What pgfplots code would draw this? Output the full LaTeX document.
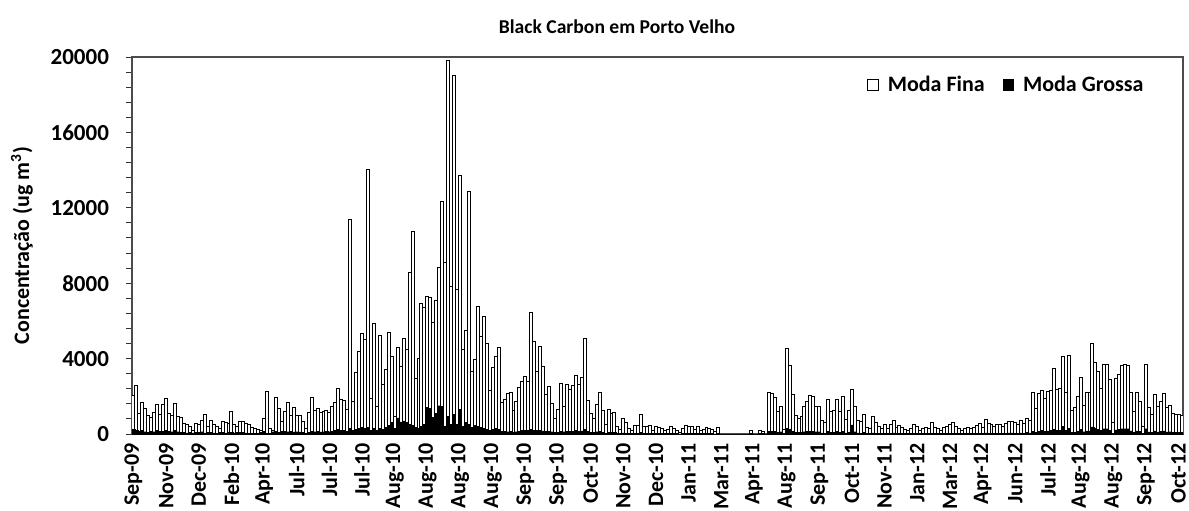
\documentclass[border=0pt]{standalone}
\usepackage{fontspec}
\setmainfont{Carlito}
\usepackage{pgfplots}
\usepackage{pgfplotstable}
\pgfplotsset{compat=1.18}

% Moda Fina, one value per bar (354 bars)
\pgfplotstableread[row sep=\\]{
f\\
2030\\2560\\1100\\1680\\1360\\970\\860\\1150\\1570\\1040\\1570\\
1890\\1080\\970\\1620\\920\\900\\550\\480\\390\\210\\560\\
510\\740\\1060\\390\\740\\480\\390\\300\\650\\600\\560\\
1180\\500\\380\\680\\650\\560\\480\\330\\280\\220\\200\\
830\\2240\\300\\200\\1920\\1360\\650\\1180\\1680\\1000\\1390\\
1000\\1000\\650\\300\\1150\\1920\\1270\\1360\\1150\\1220\\1270\\
1150\\1450\\1680\\2420\\1850\\1800\\1300\\11380\\1750\\3250\\4360\\
5320\\5010\\14050\\1900\\5850\\1480\\5220\\2630\\3420\\5410\\4090\\
920\\4590\\3600\\5060\\4480\\8590\\10740\\2950\\4000\\6910\\6730\\
7270\\7230\\5940\\7100\\8850\\12350\\9100\\19790\\7850\\19030\\7670\\
13700\\4480\\5500\\12870\\3300\\3970\\6790\\5150\\6260\\4800\\2290\\
3530\\4130\\4570\\1680\\1850\\2150\\2200\\1270\\1720\\2470\\2770\\
3030\\2800\\6420\\4890\\3330\\4620\\3600\\2100\\2500\\1620\\830\\
1300\\2680\\1480\\2630\\2360\\2550\\3090\\2630\\3000\\5060\\1800\\
1090\\830\\1570\\2220\\1270\\510\\1300\\1090\\1130\\420\\240\\
830\\620\\280\\160\\460\\460\\1040\\420\\420\\460\\180\\
390\\340\\300\\180\\240\\390\\300\\160\\90\\300\\460\\
420\\420\\250\\420\\180\\230\\340\\300\\230\\120\\340\\
0\\0\\0\\0\\0\\0\\0\\0\\0\\0\\180\\
0\\0\\180\\120\\0\\2190\\2150\\1940\\1180\\1480\\250\\
4530\\3650\\2120\\970\\830\\950\\1480\\1750\\2060\\2010\\1480\\
1480\\740\\600\\1830\\1220\\1270\\1830\\1180\\2010\\780\\1270\\
2360\\1450\\740\\650\\1060\\350\\300\\950\\600\\390\\300\\
530\\300\\510\\740\\350\\460\\340\\250\\160\\300\\480\\
390\\210\\280\\350\\270\\600\\340\\270\\160\\350\\420\\
480\\600\\390\\280\\160\\270\\340\\300\\340\\440\\560\\
350\\790\\560\\480\\420\\480\\510\\390\\560\\650\\650\\
600\\530\\740\\560\\830\\740\\2200\\1360\\2150\\2300\\1900\\
2250\\2330\\3470\\2360\\2420\\4090\\2190\\4180\\1270\\1410\\1980\\
3000\\1530\\2190\\2190\\4800\\3810\\3300\\2420\\3700\\3700\\2890\\
600\\2950\\3160\\3650\\3690\\3650\\2190\\1180\\2190\\1710\\390\\
3700\\1410\\1010\\2120\\1480\\1710\\2150\\1410\\1530\\1090\\1040\\
1010\\1000\\
}\fina

% Moda Grossa, one value per bar (354 bars)
\pgfplotstableread[row sep=\\]{
g\\
250\\200\\150\\180\\120\\100\\150\\120\\180\\150\\130\\
200\\150\\120\\180\\120\\90\\80\\60\\70\\60\\90\\
80\\120\\60\\90\\70\\60\\50\\80\\90\\60\\110\\
80\\60\\90\\80\\70\\60\\50\\40\\40\\40\\90\\
150\\50\\40\\120\\150\\90\\130\\150\\120\\140\\110\\
120\\110\\70\\50\\100\\150\\120\\130\\110\\120\\130\\
120\\150\\180\\250\\200\\180\\150\\300\\200\\250\\300\\
350\\300\\350\\200\\300\\200\\300\\250\\350\\450\\600\\
300\\850\\650\\700\\600\\500\\450\\350\\300\\400\\500\\
1400\\1350\\900\\1100\\1500\\1480\\400\\920\\500\\1040\\500\\
1300\\400\\600\\500\\350\\450\\400\\350\\300\\250\\200\\
250\\300\\250\\150\\130\\120\\150\\100\\120\\150\\180\\
200\\180\\250\\200\\180\\200\\170\\150\\150\\120\\80\\
100\\150\\120\\150\\140\\150\\180\\150\\170\\250\\150\\
100\\80\\120\\150\\100\\50\\80\\70\\80\\40\\30\\
60\\50\\30\\20\\40\\40\\80\\40\\40\\40\\20\\
30\\30\\30\\20\\30\\30\\30\\20\\10\\30\\40\\
40\\40\\30\\40\\20\\30\\30\\30\\20\\10\\30\\
0\\0\\0\\0\\0\\0\\0\\0\\0\\0\\30\\
0\\0\\30\\20\\0\\150\\150\\130\\100\\120\\40\\
300\\250\\150\\80\\70\\80\\120\\140\\150\\150\\120\\
120\\60\\50\\140\\100\\100\\140\\100\\150\\60\\100\\
480\\120\\60\\50\\80\\30\\30\\60\\40\\30\\30\\
40\\30\\40\\60\\30\\40\\30\\30\\20\\30\\40\\
30\\20\\30\\30\\30\\50\\30\\30\\20\\30\\40\\
40\\50\\30\\30\\20\\30\\30\\30\\30\\40\\50\\
30\\60\\50\\40\\40\\40\\40\\30\\50\\60\\60\\
50\\50\\60\\50\\70\\60\\150\\100\\150\\180\\150\\
170\\180\\250\\180\\180\\400\\180\\300\\100\\100\\150\\
250\\120\\170\\170\\380\\300\\250\\180\\280\\280\\200\\
50\\220\\250\\280\\280\\280\\170\\90\\170\\130\\30\\
280\\110\\80\\160\\110\\130\\160\\110\\120\\80\\80\\
80\\80\\
}\grossa

\begin{document}
\begin{tikzpicture}
\useasboundingbox (-66pt,-38pt) rectangle (528.5pt,217pt);
\begin{axis}[
  anchor=south west, at={(0pt,0pt)},
  scale only axis, width=525.5pt, height=188.5pt,
  xmin=-0.5, xmax=353.5, ymin=0, ymax=20000,
  ybar,
  ytick={0,4000,8000,12000,16000,20000},
  minor y tick num=4,
  scaled y ticks=false,
  yticklabel style={/pgf/number format/set thousands separator={},
     /pgf/number format/assume math mode=true,
     font=\fontsize{11.5}{13}\selectfont\bfseries, xshift=-5pt},
  xtick={0,11,...,352},
  xticklabels={Sep-09,Nov-09,Dec-09,Feb-10,Apr-10,Jul-10,Jul-10,Jul-10,Aug-10,Aug-10,Aug-10,Aug-10,Sep-10,Sep-10,Oct-10,Nov-10,Dec-10,Jan-11,Mar-11,Apr-11,Aug-11,Sep-11,Oct-11,Nov-11,Jan-12,Mar-12,Apr-12,Jun-12,Jul-12,Aug-12,Aug-12,Sep-12,Oct-12},
  xticklabel style={rotate=90, anchor=east, inner sep=1.5pt,
     font=\fontsize{11}{13}\selectfont\bfseries},
  x tick style={draw=none},
  tick align=outside, ytick pos=left, xtick pos=bottom,
  major tick length=3pt, minor tick length=3pt,
  y tick style={black!80, line width=0.5pt},
  axis line style={black!70, line width=0.6pt},
  ylabel={Concentração (ug m\textsuperscript{3})},
  ylabel style={at={(axis description cs:-0.1047,0.5)}, anchor=center,
     font=\fontsize{11}{13}\selectfont\bfseries},
  title={Black Carbon em Porto Velho},
  every axis title shift=0pt,
  title style={at={(axis description cs:0.4615,1.0796)}, anchor=center,
     font=\fontsize{9.8}{11}\selectfont\bfseries},
  legend columns=2,
  legend style={at={(axis description cs:0.833,0.926)}, anchor=center,
     draw=none, fill=none, font=\fontsize{11}{13}\selectfont\bfseries,
     /tikz/every odd column/.append style={column sep=2.5pt},
     /tikz/every even column/.append style={column sep=7pt}},
]
\addplot[bar shift=0pt, bar width=1, fill=white, draw=black, line width=0.5pt,
   legend image code/.code={\draw[fill=white, draw=black, line width=0.5pt] (0pt,-2.6pt) rectangle (5.2pt,2.6pt);}]
   table[x expr=\coordindex, y=f] {\fina};
\addlegendentry{Moda Fina}
\addplot[bar shift=0pt, bar width=0.85, fill=black, draw=black, line width=0.2pt,
   legend image code/.code={\draw[fill=black, draw=black, line width=0.5pt] (0pt,-2.6pt) rectangle (5.2pt,2.6pt);}]
   table[x expr=\coordindex, y=g] {\grossa};
\addlegendentry{Moda Grossa}
\end{axis}
\end{tikzpicture}
\end{document}
